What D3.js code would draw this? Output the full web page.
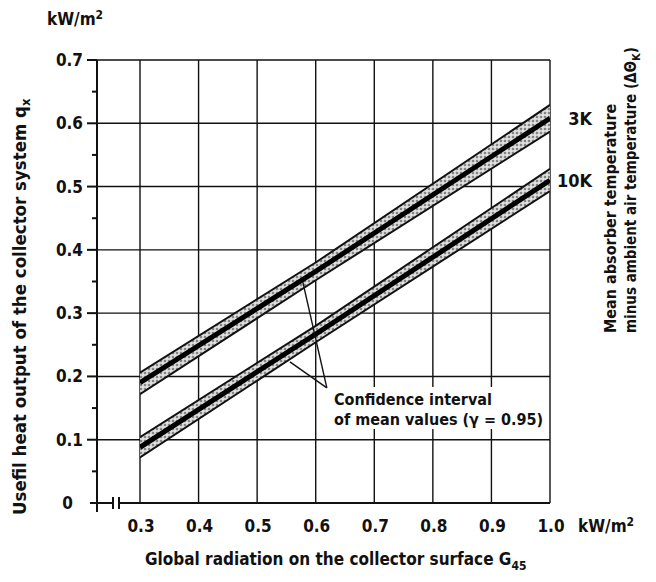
<!DOCTYPE html>
<html lang="en">
<head>
    <meta charset="UTF-8">
    <title>Collector heat output</title>
    <script src="https://d3js.org/d3.v7.min.js"></script>
    <style>
        body { margin: 0; background: #fff; }
        text {
            font-family: "Liberation Sans Narrow", "DejaVu Sans Condensed", "Arial Narrow", sans-serif;
            font-weight: bold;
            fill: #111;
        }
        .grid-line { stroke: #111; stroke-width: 1.4px; }
        .axis-line { stroke: #111; stroke-width: 2px; }
    </style>
</head>
<body>
    <div id="chart"></div>

    <script>
        // values
        const xTicks = [0.3, 0.4, 0.5, 0.6, 0.7, 0.8, 0.9, 1.0];
        const yTicks = [0, 0.1, 0.2, 0.3, 0.4, 0.5, 0.6, 0.7];
        const yMinorTicks = [0.05, 0.15, 0.25, 0.35, 0.45, 0.55, 0.65];

        const gPts = [0.3, 0.6, 1.0];
        // 3K line and its confidence interval
        const q3K     = [0.190, 0.366, 0.608];
        const q3KLow  = [0.172, 0.352, 0.587];
        const q3KHigh = [0.206, 0.380, 0.629];
        // 10K line and its confidence interval
        const q10K     = [0.088, 0.267, 0.510];
        const q10KLow  = [0.072, 0.254, 0.493];
        const q10KHigh = [0.104, 0.280, 0.528];

        // annotation pointer: tip near the text, ends on the bands
        const noteTip = [0.619, 0.182];
        const noteEnds = [[0.578, 0.349], [0.556, 0.223]];

        const W = 656, H = 582;
        const x = d3.scaleLinear().domain([0.3, 1.0]).range([140, 550]);
        const y = d3.scaleLinear().domain([0, 0.7]).range([503, 60]);
        const axisX = 97;

        const svg = d3.select("#chart")
          .append("svg")
            .attr("width", W)
            .attr("height", H);

        // stipple pattern for the confidence bands
        const defs = svg.append("defs");
        const pat = defs.append("pattern")
            .attr("id", "stipple")
            .attr("patternUnits", "userSpaceOnUse")
            .attr("width", 4)
            .attr("height", 4);
        pat.append("rect").attr("width", 4).attr("height", 4).attr("fill", "#d0d0d0");
        pat.append("circle").attr("cx", 1).attr("cy", 1).attr("r", 0.8).attr("fill", "#222");
        pat.append("circle").attr("cx", 3).attr("cy", 3).attr("r", 0.7).attr("fill", "#fff");

        defs.append("clipPath").attr("id", "plot-clip")
          .append("rect")
            .attr("x", x(0.3)).attr("y", y(0.7))
            .attr("width", x(1.0) - x(0.3)).attr("height", y(0) - y(0.7));

        // grid
        svg.selectAll(".hgrid")
            .data(yTicks.filter(d => d > 0))
            .enter()
            .append("line")
            .attr("class", "grid-line")
            .attr("x1", axisX)
            .attr("x2", x(1.0))
            .attr("y1", d => y(d))
            .attr("y2", d => y(d));

        svg.selectAll(".vgrid")
            .data(xTicks)
            .enter()
            .append("line")
            .attr("class", "grid-line")
            .attr("x1", d => x(d))
            .attr("x2", d => x(d))
            .attr("y1", y(0.7))
            .attr("y2", y(0));

        // axes
        svg.append("line").attr("class", "axis-line")
            .attr("x1", axisX).attr("x2", axisX)
            .attr("y1", y(0.7)).attr("y2", y(0) + 9);
        svg.append("line").attr("class", "axis-line")
            .attr("x1", axisX - 7).attr("x2", 113)
            .attr("y1", y(0)).attr("y2", y(0));
        svg.append("line").attr("class", "axis-line")
            .attr("x1", 119).attr("x2", x(1.0))
            .attr("y1", y(0)).attr("y2", y(0));
        // axis break marks
        [113, 119].forEach(bx => {
            svg.append("line").attr("class", "axis-line")
                .attr("x1", bx).attr("x2", bx)
                .attr("y1", y(0) - 6).attr("y2", y(0) + 6);
        });

        // y ticks
        svg.selectAll(".ytick")
            .data(yTicks.filter(d => d > 0))
            .enter()
            .append("line")
            .attr("class", "axis-line")
            .attr("x1", axisX - 10).attr("x2", axisX)
            .attr("y1", d => y(d)).attr("y2", d => y(d));
        svg.selectAll(".yminor")
            .data(yMinorTicks)
            .enter()
            .append("line")
            .attr("class", "axis-line")
            .attr("x1", axisX - 5).attr("x2", axisX)
            .attr("y1", d => y(d)).attr("y2", d => y(d));

        svg.selectAll(".ylabel")
            .data(yTicks)
            .enter()
            .append("text")
            .attr("x", d => d === 0 ? 73 : 83)
            .attr("y", d => y(d) + 6)
            .attr("text-anchor", "end")
            .style("font-size", "17px")
            .text(d => d === 0 ? "0" : d.toFixed(1));

        svg.selectAll(".xlabel")
            .data(xTicks)
            .enter()
            .append("text")
            .attr("x", d => x(d) + 1)
            .attr("y", 532)
            .attr("text-anchor", "middle")
            .style("font-size", "17px")
            .text(d => d.toFixed(1));

        // units
        const unitTop = svg.append("text")
            .attr("x", 47).attr("y", 25)
            .style("font-size", "17px");
        unitTop.append("tspan").text("kW/m");
        unitTop.append("tspan").attr("dy", -6).style("font-size", "12px").text("2");

        const unitX = svg.append("text")
            .attr("x", 578).attr("y", 532)
            .style("font-size", "17px");
        unitX.append("tspan").text("kW/m");
        unitX.append("tspan").attr("dy", -6).style("font-size", "12px").text("2");

        // bands
        const pts = (arr) => gPts.map((g, i) => [g, arr[i]]);
        const line = d3.line().x(d => x(d[0])).y(d => y(d[1]));
        const area = d3.area()
            .x(d => x(d[0]))
            .y0(d => y(d[1]))
            .y1(d => y(d[2]));

        const bands = [
            { name: "3K", mid: q3K, low: q3KLow, high: q3KHigh },
            { name: "10K", mid: q10K, low: q10KLow, high: q10KHigh }
        ];

        const plot = svg.append("g").attr("clip-path", "url(#plot-clip)");
        bands.forEach(b => {
            plot.append("path")
                .attr("d", area(gPts.map((g, i) => [g, b.low[i], b.high[i]])))
                .attr("fill", "url(#stipple)")
                .attr("stroke", "none");
            plot.append("path")
                .attr("d", line(pts(b.low)))
                .attr("fill", "none").attr("stroke", "#111").attr("stroke-width", 2);
            plot.append("path")
                .attr("d", line(pts(b.high)))
                .attr("fill", "none").attr("stroke", "#111").attr("stroke-width", 2);
            plot.append("path")
                .attr("d", line(pts(b.mid)))
                .attr("fill", "none").attr("stroke", "#000").attr("stroke-width", 5);
        });

        // series labels at right end
        svg.selectAll(".series-label")
            .data(bands)
            .enter()
            .append("text")
            .attr("x", 592)
            .attr("y", d => y(d.mid[d.mid.length - 1]) + 7)
            .attr("text-anchor", "end")
            .style("font-size", "18px")
            .text(d => d.name);

        // annotation
        svg.append("rect")
            .attr("x", 331).attr("y", 387)
            .attr("width", 214).attr("height", 42)
            .attr("fill", "#fff");
        noteEnds.forEach(e => {
            svg.append("line")
                .attr("x1", x(noteTip[0])).attr("y1", y(noteTip[1]))
                .attr("x2", x(e[0])).attr("y2", y(e[1]))
                .attr("stroke", "#111").attr("stroke-width", 1.4);
        });
        svg.append("text")
            .attr("x", 334).attr("y", 405)
            .style("font-size", "16px")
            .text("Confidence interval");
        svg.append("text")
            .attr("x", 334).attr("y", 425)
            .style("font-size", "16px")
            .text("of mean values (\u03b3 = 0.95)");

        // axis titles
        const xTitle = svg.append("text")
            .attr("x", 145).attr("y", 565)
            .style("font-size", "17px");
        xTitle.append("tspan").text("Global radiation on the collector surface G");
        xTitle.append("tspan").attr("dy", 5).style("font-size", "12px").text("45");

        const yTitle = svg.append("text")
            .attr("transform", "translate(26,515) rotate(-90)")
            .style("font-size", "18.5px");
        yTitle.append("tspan").text("Usefil heat output of the collector system q");
        yTitle.append("tspan").attr("dy", 4).style("font-size", "13px").text("x");

        svg.append("text")
            .attr("transform", "translate(616,333) rotate(-90)")
            .style("font-size", "16px")
            .text("Mean absorber temperature");
        const rTitle = svg.append("text")
            .attr("transform", "translate(636,333) rotate(-90)")
            .style("font-size", "15px");
        rTitle.append("tspan").text("minus ambient air temperature (\u0394\u0398");
        rTitle.append("tspan").attr("dy", 4).style("font-size", "11px").text("K");
        rTitle.append("tspan").attr("dy", -4).text(")");
    </script>
</body>
</html>
